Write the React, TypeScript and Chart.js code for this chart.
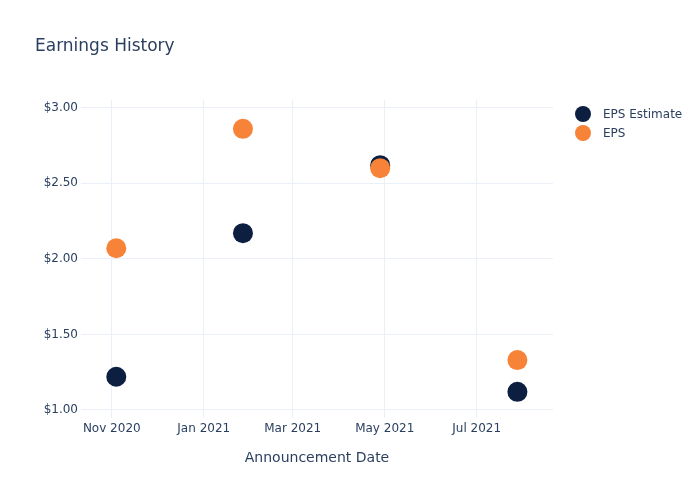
import React, { useEffect, useRef } from "react";
import { Chart, registerables } from "chart.js";

Chart.register(...registerables);

const announcementDates = ["2020-11-04", "2021-01-27", "2021-04-28", "2021-07-28"];
const epsEstimate = [1.22, 2.17, 2.62, 1.12];
const epsActual = [2.07, 2.86, 2.6, 1.33];
const xTickMonths = ["2020-11-01", "2021-01-01", "2021-03-01", "2021-05-01", "2021-07-01"];
const yTickValues = [1, 1.5, 2, 2.5, 3];
const seriesLabels = ["EPS Estimate", "EPS"];
const seriesColors = ["#0c1f40", "#f78338"];

const monthNames = ["Jan", "Feb", "Mar", "Apr", "May", "Jun", "Jul", "Aug", "Sep", "Oct", "Nov", "Dec"];
const toMs = (s: string) => {
  const [y, m, d] = s.split("-").map(Number);
  return Date.UTC(y, m - 1, d);
};
const DAY = 86400000;
const X_MIN = toMs("2020-10-11") + 0.6 * DAY;
const X_MAX = toMs("2021-08-20") + 0.6 * DAY;

const FONT = "'DejaVu Sans', Verdana, sans-serif";
const TEXT = "#2a3f5f";
const GRID = "#ebf0f8";

const overlayPlugin = {
  id: "overlay",
  afterDraw(chart: any) {
    const ctx = chart.ctx;
    ctx.save();
    ctx.fillStyle = TEXT;
    ctx.font = `17px ${FONT}`;
    ctx.textAlign = "left";
    ctx.textBaseline = "alphabetic";
    ctx.fillText("Earnings History", 35, 51);
    ctx.font = `12px ${FONT}`;
    ctx.textBaseline = "middle";
    seriesLabels.forEach((label, i) => {
      const cy = 114 + i * 19;
      ctx.beginPath();
      ctx.arc(583, cy, 8, 0, Math.PI * 2);
      ctx.fillStyle = seriesColors[i];
      ctx.fill();
      ctx.fillStyle = TEXT;
      ctx.fillText(label, 603, cy + 1);
    });
    ctx.restore();
  },
};

export default function App() {
  const ref = useRef<HTMLCanvasElement | null>(null);
  useEffect(() => {
    document.body.style.margin = "0";
    const canvas = ref.current;
    if (!canvas) return;
    const chart = new Chart(canvas, {
      type: "scatter",
      data: {
        datasets: [
          {
            label: seriesLabels[0],
            data: announcementDates.map((d, i) => ({ x: toMs(d), y: epsEstimate[i] })),
            backgroundColor: seriesColors[0],
            borderColor: seriesColors[0],
            borderWidth: 0,
            pointRadius: 10,
            pointHoverRadius: 10,
            order: 1,
          },
          {
            label: seriesLabels[1],
            data: announcementDates.map((d, i) => ({ x: toMs(d), y: epsActual[i] })),
            backgroundColor: seriesColors[1],
            borderColor: seriesColors[1],
            borderWidth: 0,
            pointRadius: 10,
            pointHoverRadius: 10,
            order: 0,
          },
        ],
      },
      options: {
        animation: false,
        responsive: false,
        devicePixelRatio: 1,
        layout: { padding: { top: 100, right: 147, left: 0, bottom: 0 } },
        plugins: {
          legend: { display: false },
          title: { display: false },
          tooltip: { enabled: false },
        },
        scales: {
          x: {
            type: "linear",
            min: X_MIN,
            max: X_MAX,
            afterFit: (s: any) => {
              s.height = 82;
            },
            afterBuildTicks: (s: any) => {
              s.ticks = xTickMonths.map((m) => ({ value: toMs(m) }));
            },
            ticks: {
              padding: 4,
              color: TEXT,
              font: { family: FONT, size: 12 },
              maxRotation: 0,
              callback: (v: any) => {
                const d = new Date(Number(v));
                return `${monthNames[d.getUTCMonth()]} ${d.getUTCFullYear()}`;
              },
            },
            grid: { color: GRID, lineWidth: 1, drawTicks: false },
            border: { display: false },
            title: {
              display: true,
              text: "Announcement Date",
              color: TEXT,
              font: { family: FONT, size: 14 },
              padding: { top: 0, bottom: 33 },
            },
          },
          y: {
            type: "linear",
            min: 0.947,
            max: 3.051,
            afterFit: (s: any) => {
              s.width = 81;
            },
            afterBuildTicks: (s: any) => {
              s.ticks = yTickValues.map((v) => ({ value: v }));
            },
            ticks: {
              padding: 3,
              color: TEXT,
              font: { family: FONT, size: 12 },
              callback: (v: any) => `$${Number(v).toFixed(2)}`,
            },
            grid: { color: GRID, lineWidth: 1, drawTicks: false },
            border: { display: false },
          },
        },
      },
      plugins: [overlayPlugin],
    } as any);
    return () => chart.destroy();
  }, []);
  return (
    <div style={{ width: 700, height: 500, background: "#fff" }}>
      <canvas ref={ref} width={700} height={500} style={{ display: "block" }} />
    </div>
  );
}
